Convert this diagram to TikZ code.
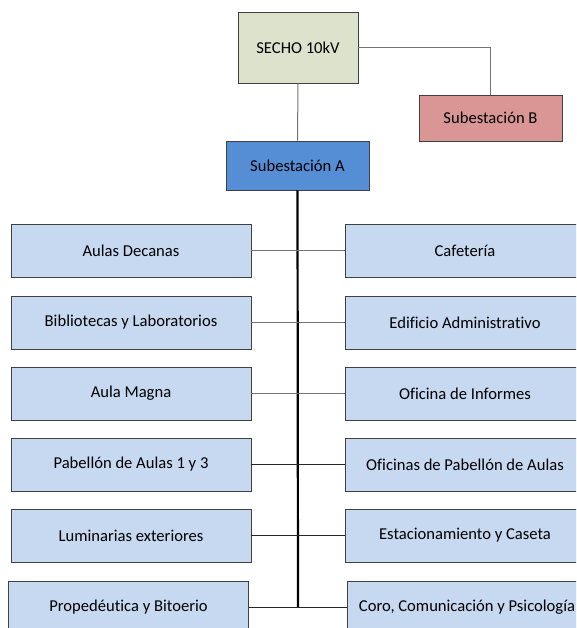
\documentclass[tikz,border=0pt]{standalone}
\usepackage{fontspec}
\setmainfont[Ligatures=NoCommon]{Carlito}
\definecolor{sechofill}{HTML}{DDE2CC}
\definecolor{bfill}{HTML}{D99694}
\definecolor{afill}{HTML}{558ED5}
\definecolor{boxfill}{HTML}{C6D9F1}
\definecolor{edgecol}{HTML}{404040}
\begin{document}
\begin{tikzpicture}[x=1pt,y=-1pt,
  box/.style={draw=edgecol, line width=0.9pt, rectangle, inner sep=0pt, align=center,
    font=\fontsize{16.6}{20}\selectfont, text=black},
  leaf/.style={box, fill=boxfill, minimum width=240pt, minimum height=53pt},
  conn/.style={line width=1pt, draw=black!85},
  conng/.style={line width=1pt, draw=black!55},
  bus/.style={line width=2.2pt, draw=black}]
\useasboundingbox (0,0) rectangle (576,628);
\clip (0,0) rectangle (576,628);
\node[box, fill=sechofill, minimum width=120pt, minimum height=71pt] (secho) at (298,47.5) {SECHO 10kV};
\node[box, fill=bfill, minimum width=143pt, minimum height=46pt] (subb) at (490.5,118) {Subestación B};
\node[box, fill=afill, minimum width=143pt, minimum height=49pt] (suba) at (297.5,165.5) {Subestación A};

\node[leaf] (l1) at (131,250.5) {Aulas Decanas};
\node[leaf] (l2) at (131,322.5) {Bibliotecas y Laboratorios};
\node[leaf] (l3) at (131,393.5) {Aula Magna};
\node[leaf] (l4) at (131,464.5) {Pabellón de Aulas 1 y 3};
\node[leaf] (l5) at (131,535.5) {Luminarias exteriores};
\node[leaf] (l6) at (128.5,607.5) {Propedéutica y Bitoerio};

\node[leaf] (r1) at (465,250.5) {Cafetería};
\node[leaf] (r2) at (465,322.5) {Edificio Administrativo};
\node[leaf] (r3) at (465,393.5) {Oficina de Informes};
\node[leaf] (r4) at (465,464.5) {Oficinas de Pabellón de Aulas};
\node[leaf] (r5) at (465,535.5) {Estacionamiento y Caseta};
\node[leaf] (r6) at (467,607.5) {Coro, Comunicación y Psicología};

\coordinate (busend) at (298,607.5);

\draw[conng] (secho.east) -| (subb.north);
\draw[conng] (secho.south) -- (suba.north);
\draw[bus] (suba.south) -- (busend);

\draw[conng] (l1.east) -- (r1.west);
\draw[conng] (l2.east) -- (r2.west);
\draw[conng] (l3.east) -- (r3.west);
\draw[conn] (l4.east) -- (r4.west);
\draw[conn] (l5.east) -- (r5.west);
\draw[conn] (l6.east) -- (r6.west);
\end{tikzpicture}
\end{document}
